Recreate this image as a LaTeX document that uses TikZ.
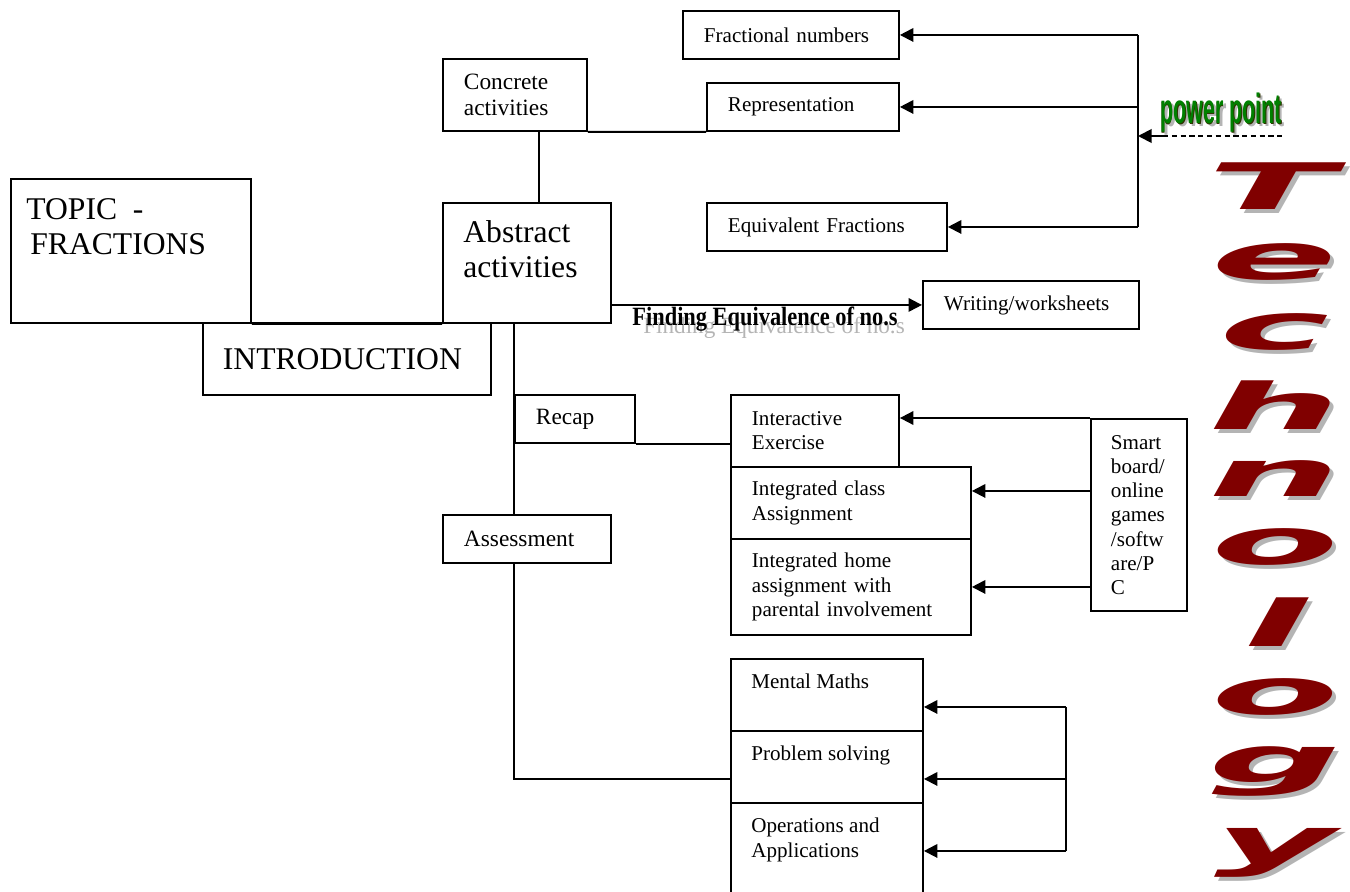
\documentclass[tikz,border=0pt]{standalone}
\usepackage{fontspec}
\setmainfont{Liberation Serif}
\newfontfamily\ppfont{Liberation Sans}
\newfontfamily\techfont{DejaVu Sans}
\usetikzlibrary{arrows.meta,positioning}
\definecolor{techred}{HTML}{800000}
\definecolor{ppgreen}{HTML}{008000}
\definecolor{ppdark}{HTML}{2E3300}
\definecolor{shadowgrey}{HTML}{B4B4B4}
\tikzset{
	box/.style={draw, line width=1.1pt, fill=white, rectangle, anchor=north west, inner sep=0pt},
	txtS/.style={font=\fontsize{12}{13.8}\selectfont, align=left, inner sep=0pt},
	txtM/.style={font=\fontsize{13.3}{15}\selectfont, align=left, inner sep=0pt},
	txtL/.style={font=\fontsize{18}{20.2}\selectfont, align=left, inner sep=0pt},
	link/.style={line width=1.1pt},
	feed/.style={line width=1.1pt, -{Triangle[length=0.27cm,width=0.27cm]}},
	techletter/.style={font=\techfont\bfseries\itshape\fontsize{36.5}{36.5}\selectfont, text=techred, xscale=2.9, transform shape, inner sep=0pt},
	techshadow/.style={techletter, text=shadowgrey},
}
\begin{document}
\begin{tikzpicture}[x=0.02cm,y=-0.02cm]
		\useasboundingbox (0,0) rectangle (1350,892);

		\node[box, txtS, minimum width=4.32cm, minimum height=0.96cm, text width=3.48cm] (fr) at (682,10) {Fractional numbers};
		\node[box, txtM, minimum width=2.88cm, minimum height=1.44cm, text width=2.04cm] (conc) at (442,58) {Concrete\\activities};
		\node[box, txtS, minimum width=3.84cm, minimum height=0.96cm, text width=3.0cm] (rep) at (706,82) {Representation};
		\node[box, minimum width=3.36cm, minimum height=2.4cm] (abs) at (442,202) {};
		\node[box, txtS, minimum width=4.8cm, minimum height=0.96cm, text width=3.96cm] (eqf) at (706,202) {Equivalent Fractions};
		\node[box, minimum width=4.8cm, minimum height=2.88cm] (topic) at (10,178) {};
		\node[box, txtL, minimum width=5.76cm, minimum height=1.44cm, text width=4.96cm] (intro) at (202,322) {INTRODUCTION};
		\node[box, txtS, minimum width=4.32cm, minimum height=0.96cm, text width=3.48cm] (wri) at (922,280) {Writing/worksheets};
		\node[box, txtM, minimum width=2.4cm, minimum height=0.96cm, text width=1.56cm] (recap) at (514,394) {Recap};
		\node[box, txtS, minimum width=3.36cm, minimum height=1.44cm, text width=2.52cm] (inter) at (730,394) {Interactive\\Exercise};
		\node[box, txtS, minimum width=4.8cm, minimum height=1.44cm, text width=3.96cm] (icls) at (730,466) {Integrated class\\Assignment};
		\node[box, txtS, minimum width=4.8cm, minimum height=1.92cm, text width=3.96cm] (ihome) at (730,538) {Integrated home\\assignment with\\parental involvement};
		\node[box, txtS, minimum width=1.92cm, minimum height=3.84cm, text width=1.12cm] (smart) at (1090,418) {Smart\\board/\\online\\games\\/softw\\are/P\\C};
		\node[box, txtM, minimum width=3.36cm, minimum height=0.96cm, text width=2.52cm] (assess) at (442,514) {Assessment};
		\node[box, minimum width=3.84cm, minimum height=1.44cm] (mental) at (730,658) {};
		\node[box, minimum width=3.84cm, minimum height=1.44cm] (prob) at (730,730) {};
		\node[box, minimum width=3.84cm, minimum height=1.92cm] (oper) at (730,802) {};

		\node[txtL, anchor=north west] (absT) at ([shift={(21,18)}]abs.north west) {Abstract\\activities};
		\node[txtL, anchor=north west] (topicT) at ([shift={(16,20)}]topic.north west) {TOPIC\ \ -\\\hspace*{0.08cm}FRACTIONS};
		\node[txtS, anchor=north west] (mentalT) at ([shift={(21,16)}]mental.north west) {Mental Maths};
		\node[txtS, anchor=north west] (probT) at ([shift={(21,16)}]prob.north west) {Problem solving};
		\node[txtS, anchor=north west] (operT) at ([shift={(21,16)}]oper.north west) {Operations and\\Applications};

		% power point feeds the top three
		\coordinate (hub) at (1138,136);
		\coordinate (ppfoot) at (1163,136);
		\draw[link] (hub |- fr.east) -- (hub |- eqf.east);
		\draw[feed] (hub |- fr.east) -- (fr.east);
		\draw[feed] (hub |- rep.east) -- (rep.east);
		\draw[feed] (hub |- eqf.east) -- (eqf.east);
		\draw[feed] (ppfoot) -- (hub);
		\draw[densely dashed, line width=0.6pt] (ppfoot) -- ++(120,0);

		\draw[link] (conc.south east) -- (rep.south west);
		\draw[link] ([xshift=0.48cm]conc.south) -- ([xshift=0.48cm]conc.south |- abs.north);
		\draw[link] (topic.south east) -- (abs.south west);
		\draw[feed] (wri.west -| abs.east) -- (wri.west);

		% trunk down the left
		\coordinate (probL) at ([shift={(0,12)}]prob.west);
		\draw[link] (recap.west |- abs.south) -- (recap.west |- assess.north);
		\draw[link] (recap.west |- assess.south) |- (probL);
		\draw[link] (recap.south east) -- (recap.south east -| inter.west);

		% smart board
		\coordinate (iclsin) at ([shift={(0,-12)}]icls.east);
		\draw[feed] (smart.north west) -- (smart.north west -| inter.east);
		\draw[feed] (smart.west |- iclsin) -- (iclsin);
		\draw[feed] (smart.west |- ihome.east) -- (ihome.east);

		% loop at the bottom
		\coordinate (bhub) at (1066,778);
		\coordinate (mentalin) at ([shift={(0,12)}]mental.east);
		\coordinate (probin) at ([shift={(0,12)}]prob.east);
		\draw[link] (bhub |- mentalin) -- (bhub |- oper.east);
		\draw[feed] (bhub |- mentalin) -- (mentalin);
		\draw[feed] (bhub |- probin) -- (probin);
		\draw[feed] (bhub |- oper.east) -- (oper.east);

		\node[font=\fontsize{13.2}{14}\selectfont, text=shadowgrey, inner sep=0pt, anchor=base] (feqS) at (774,333) {Finding Equivalence of no.s};
		\node[font=\bfseries\fontsize{15}{16}\selectfont, xscale=0.85, transform shape, inner sep=0pt, anchor=base] (feq) at (765,325) {Finding Equivalence of no.s};

		\node[font=\ppfont\bfseries\fontsize{24}{24}\selectfont, text=shadowgrey, xscale=0.51, transform shape, inner sep=0pt, anchor=base west] (ppS) at (1163,127) {power point};
		\node[font=\ppfont\bfseries\fontsize{24}{24}\selectfont, text=ppdark, xscale=0.51, transform shape, inner sep=0pt, anchor=base west] (ppD) at (1160.8,124.8) {power point};
		\node[font=\ppfont\bfseries\fontsize{24}{24}\selectfont, text=ppgreen, xscale=0.51, transform shape, inner sep=0pt, anchor=base west] (pp) at (1160,124) {power point};

		\node[techshadow] (sT) at (1275,190) {T};
		\node[techletter] (tT) at (1271,186) {T};
		\node[techshadow] (se) at (1279,266) {e};
		\node[techletter] (te) at (1275,262) {e};
		\node[techshadow] (sc) at (1279,336) {c};
		\node[techletter] (tc) at (1275,332) {c};
		\node[techshadow] (sh) at (1279,409) {h};
		\node[techletter] (th) at (1275,405) {h};
		\node[techshadow] (sn) at (1279,483) {n};
		\node[techletter] (tn) at (1275,479) {n};
		\node[techshadow] (so1) at (1279,551) {o};
		\node[techletter] (to1) at (1275,547) {o};
		\node[techshadow] (sl) at (1279,626) {l};
		\node[techletter] (tl) at (1275,622) {l};
		\node[techshadow] (so2) at (1279,701) {o};
		\node[techletter] (to2) at (1275,697) {o};
		\node[techshadow] (sg) at (1279,775) {g};
		\node[techletter] (tg) at (1275,771) {g};
		\node[techshadow] (sy) at (1279,857) {y};
		\node[techletter] (ty) at (1275,853) {y};
	\end{tikzpicture}
\end{document}
